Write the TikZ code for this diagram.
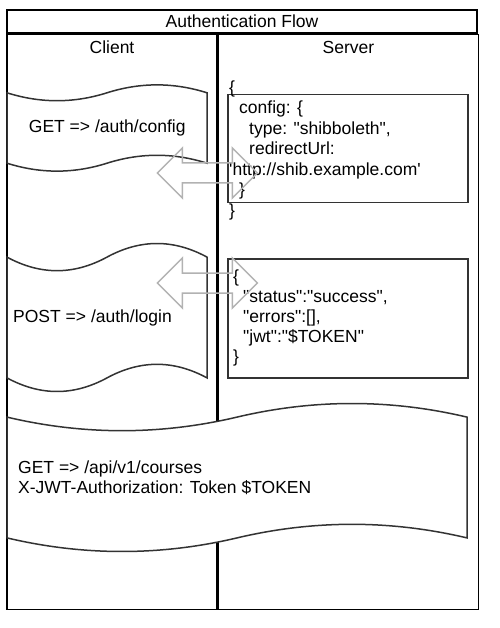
\documentclass[tikz,border=0pt]{standalone}
\usepackage{fontspec}
\setmainfont{Liberation Sans}[Ligatures=TeXOff]
\usetikzlibrary{positioning}

\tikzstyle{pool} = [rectangle, draw=black, line width=1.5pt, inner sep=0pt]
\tikzstyle{lanelbl} = [inner sep=0pt]
\tikzstyle{tape} = [rectangle, inner sep=0pt, anchor=north west]
\tikzstyle{tapeline} = [draw=black!80, fill=white, line width=1.5pt]
\tikzstyle{resp} = [rectangle, draw=black!80, fill=white, line width=1.5pt, inner sep=0pt, anchor=north west]
\tikzstyle{json} = [align=left, inner sep=0pt, anchor=west]
\tikzstyle{xchg} = [draw=black!30, line width=1.5pt, line join=miter]

% wavy outline round a tape node: #1 name, #2 width, #3 height
\newcommand{\tapeshape}[3]{%
\draw[tapeline] ([shift={(0,{0.1*#3})}]#1.north west)
 .. controls ([shift={({#2/6},{0.22*#3})}]#1.north west) and ([shift={({#2/3},{0.22*#3})}]#1.north west) .. ([shift={({#2/2},{0.1*#3})}]#1.north west)
 .. controls ([shift={({2*#2/3},{-0.02*#3})}]#1.north west) and ([shift={({5*#2/6},{-0.02*#3})}]#1.north west) .. ([shift={(#2,{0.1*#3})}]#1.north west)
 -- ([shift={(#2,{0.9*#3})}]#1.north west)
 .. controls ([shift={({5*#2/6},{0.78*#3})}]#1.north west) and ([shift={({2*#2/3},{0.78*#3})}]#1.north west) .. ([shift={({#2/2},{0.9*#3})}]#1.north west)
 .. controls ([shift={({#2/3},{1.02*#3})}]#1.north west) and ([shift={({#2/6},{1.02*#3})}]#1.north west) .. ([shift={(0,{0.9*#3})}]#1.north west)
 -- cycle;}

% hollow two-way block arrow round a coordinate
\newcommand{\xchgarrow}[1]{%
\draw[xchg] ([xshift=-50pt]#1) -- ++(25,-25) -- ++(0,15) -- ++(50,0) -- ++(0,-15) -- ++(25,25)
 -- ++(-25,25) -- ++(0,-15) -- ++(-50,0) -- ++(0,15) -- cycle;}

\begin{document}
\begin{tikzpicture}[x=1pt, y=-1pt, font=\fontsize{17.5}{20}\selectfont]
\useasboundingbox (0,0) rectangle (499,628);

\node [pool, minimum width=470, minimum height=23] (title) at (242,21.5) {Authentication Flow};
\node [pool, minimum width=210, minimum height=575, anchor=north west] (client) at (title.south west) {};
\node [pool, minimum width=260, minimum height=575, anchor=north west] (server) at (client.north east) {};
\node [lanelbl, below=7pt of client.north] (clientlbl) {Client};
\node [lanelbl, below=7pt of server.north] (serverlbl) {Server};

\node [tape, minimum width=200, minimum height=88] (gettape) at (7,84) {};
\tapeshape{gettape}{200}{88}
\node at (gettape.center) (getlbl) {GET => /auth/config};

\node [tape, minimum width=200, minimum height=151] (posttape) at (7,242) {};
\tapeshape{posttape}{200}{151}
\node [json, right=6pt of posttape.west] (postlbl) {POST => /auth/login};

\node [tape, minimum width=460, minimum height=151] (apitape) at (7,402) {};
\tapeshape{apitape}{460}{151}
\node [json, right=11pt of apitape.west] (apilbl) {GET => /api/v1/courses\\X-JWT-Authorization: Token \$TOKEN};

\node [resp, minimum width=240, minimum height=108] (cfgbox) at (227,94) {};
\node [json, font=\fontsize{17.5}{20.5}\selectfont] (cfgtext) at (229,150) {\{\\
\hspace*{10pt}config: \{\\
\hspace*{20pt}type: "shibboleth",\\
\hspace*{20pt}redirectUrl:\\
'http://shib.example.com'\\
\hspace*{10pt}\}\\
\}};

\node [resp, minimum width=240, minimum height=119] (loginbox) at (227,258) {};
\node [json, right=6pt of loginbox.west] (logintext) {\{\\
\hspace*{10pt}"status":"success",\\
\hspace*{10pt}"errors":[],\\
\hspace*{10pt}"jwt":"\$TOKEN"\\
\}};

\coordinate (cfgx) at (gettape.east |- 0,173);
\coordinate (loginx) at (posttape.east |- 0,283);
\xchgarrow{cfgx}
\xchgarrow{loginx}

\end{tikzpicture}
\end{document}
